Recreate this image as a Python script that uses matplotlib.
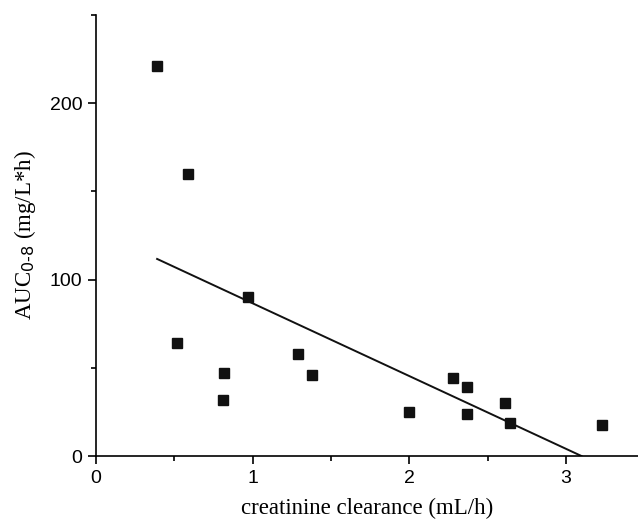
import numpy as np
import matplotlib.pyplot as plt
from matplotlib.ticker import MultipleLocator

# creatinine clearance (mL/h) vs AUC
clearance = [0.39, 0.59, 0.52, 0.81, 0.82, 0.97, 1.29, 1.38,
             2.00, 2.28, 2.37, 2.37, 2.61, 2.64, 3.23]
auc = [221, 160, 64, 32, 47, 90, 58, 46,
       25, 44, 39, 24, 30, 19, 17.5]

x = np.array(clearance)
y = np.array(auc)

# linear regression, drawn from the smallest x to where it hits zero
slope, intercept = np.polyfit(x, y, 1)
fit_x = np.array([x.min(), -intercept / slope])
fit_y = slope * fit_x + intercept

fig = plt.figure(figsize=(6.38, 5.2), dpi=100)
ax = fig.add_axes([0.1505, 0.123, 0.8495, 0.848])

ax.plot(fit_x, fit_y, color='#111111', lw=1.4)
ax.plot(x, y, 's', color='#111111', ms=6.5, mec='#111111')

ax.set_xlim(0, 3.46)
ax.set_ylim(0, 250)
ax.spines['top'].set_visible(False)
ax.spines['right'].set_visible(False)
for s in ['left', 'bottom']:
    ax.spines[s].set_linewidth(1.2)

ax.xaxis.set_major_locator(MultipleLocator(1))
ax.xaxis.set_minor_locator(MultipleLocator(0.5))
ax.yaxis.set_major_locator(MultipleLocator(100))
ax.yaxis.set_minor_locator(MultipleLocator(50))
ax.tick_params(which='major', direction='out', length=6, width=1.2,
               labelsize=14, pad=4)
ax.tick_params(which='minor', direction='out', length=3.5, width=1.2)
for lab in ax.get_xticklabels() + ax.get_yticklabels():
    lab.set_family('Liberation Sans')

serif = {'family': 'Liberation Serif', 'size': 16.5}
plt.rcParams['mathtext.fontset'] = 'custom'
plt.rcParams['mathtext.rm'] = 'Liberation Serif'
ax.set_xlabel('creatinine clearance (mL/h)', fontdict=serif, labelpad=8)
ax.set_ylabel(r'AUC$_{\mathrm{0\text{-}8}}$ (mg/L*h)', fontdict=serif, labelpad=8)

fig.savefig('out.png', dpi=100)
